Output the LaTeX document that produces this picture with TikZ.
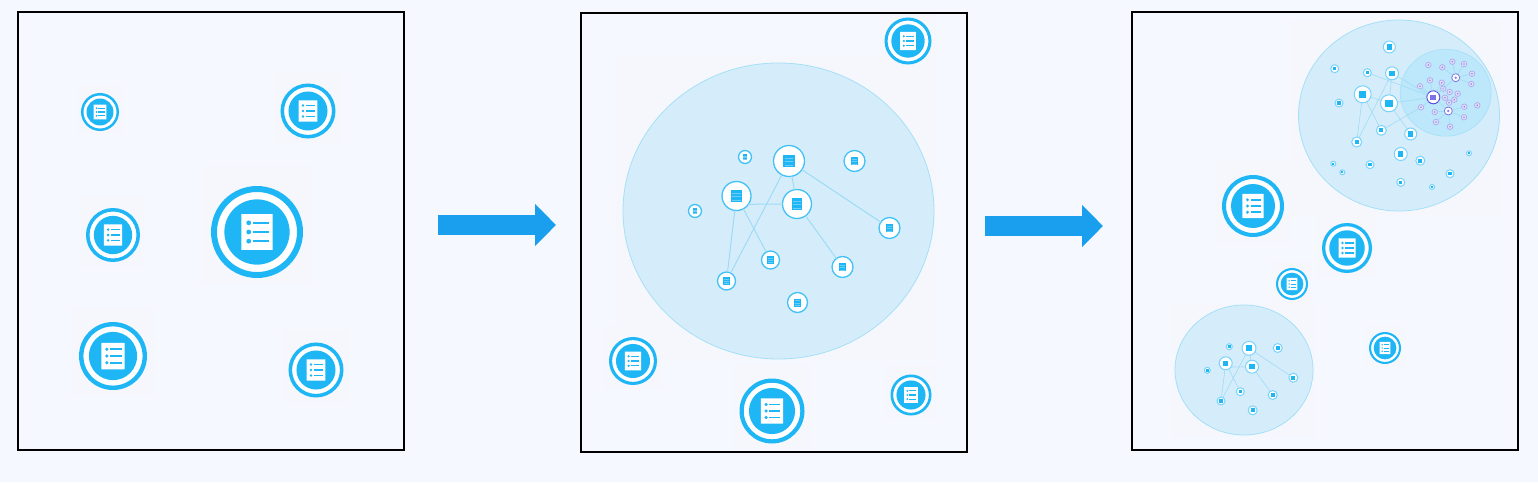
\documentclass[tikz,border=0pt]{standalone}
\usetikzlibrary{arrows.meta}
\definecolor{pagecol}{HTML}{F5F9FF}
\definecolor{patchcol}{HTML}{F6F7FD}
\definecolor{iconblue}{HTML}{1FB6F6}
\definecolor{arrowblue}{HTML}{1A9FEE}
\definecolor{cloudfill}{HTML}{D5EDFB}
\definecolor{innerfill}{HTML}{BDE7FA}
\definecolor{cloudline}{HTML}{A5E0F6}
\definecolor{edgecol}{HTML}{9FDBF5}
\definecolor{hubpurple}{HTML}{5A50E0}
\definecolor{softpurple}{HTML}{AFA8EE}
\definecolor{palepurple}{HTML}{E3E0FA}
\tikzset{
  panel/.style={draw=black, line width=1.5pt},
  cloud/.style={fill=cloudfill, draw=cloudline, line width=0.8pt},
  innercloud/.style={fill=innerfill, draw=cloudline, line width=0.6pt},
  netedge/.style={draw=edgecol, line width=1pt},
  bigarrow/.style={draw=arrowblue, line width=20pt, -{Triangle[length=21pt,width=41pt]}},
  iconring/.style={circle, draw=iconblue, fill=white, inner sep=0pt, outer sep=0pt},
  netring/.style={circle, draw=iconblue!85, fill=white, inner sep=0pt, outer sep=0pt, line width=1.3pt},
  minring/.style={circle, draw=iconblue!60, fill=white, inner sep=0pt, outer sep=0pt, line width=1pt},
  purplering/.style={circle, draw=softpurple, fill=palepurple, inner sep=0pt, outer sep=0pt, line width=0.7pt}
}
\newcommand{\docicon}[4]{%
  \node[iconring, minimum size=0.935*#4pt, line width=0.065*#4pt] (#1) at (#2,#3) {};
  \begin{scope}[shift={(#2,#3)}, x={0.01*#4pt}, y={0.01*#4pt}]
    \fill[iconblue] (0,0) circle (35.5);
    \fill[white, rounded corners=0.3pt] (-17,-19.5) rectangle (17,19.5);
    \foreach \k in {-10,0,10} {
      \fill[iconblue] (-9,\k) circle (2.6);
      \fill[iconblue] (-4,\k-1.4) rectangle (13,\k+1.4);
    }
  \end{scope}
}
\newcommand{\netnode}[4]{%
  \node[netring, minimum size=#4pt] (#1) at (#2,#3) {};
  \fill[iconblue] (#2-0.18*#4,#3-0.2*#4) rectangle (#2+0.18*#4,#3+0.2*#4);
  \foreach \k in {-0.08,0.04,0.16}
    \draw[white, opacity=0.35, line width=0.4pt] (#2-0.14*#4,#3+\k*#4-0.02*#4) -- (#2+0.14*#4,#3+\k*#4-0.02*#4);
}
\newcommand{\minnode}[4]{%
  \node[minring, minimum size=#4pt] (#1) at (#2,#3) {};
  \fill[iconblue] (#2-0.21*#4,#3-0.21*#4) rectangle (#2+0.21*#4,#3+0.21*#4);
}
\newcommand{\purplenode}[3]{%
  \node[purplering, minimum size=5.5pt] (#1) at (#2,#3) {};
  \fill[hubpurple!70] (#2,#3) circle (0.9);
}
\begin{document}
\begin{tikzpicture}[x=1pt, y=-1pt]
  \fill[pagecol] (0,0) rectangle (1538,482);
  \useasboundingbox (0,0) rectangle (1538,482);

  \foreach \x/\y/\d in {100/112/38, 308/111/55, 113/235/54, 257/232/92, 113/356/68, 316/370/55,
      908/41/47, 633/361/48, 772/411/65, 911/395/41,
      1253/206/62, 1347/248/50, 1292/284/32, 1385/348/32}
    \fill[patchcol] (\x-0.6*\d,\y-0.72*\d) rectangle (\x+0.6*\d,\y+0.58*\d);
  \fill[patchcol] (615,55) rectangle (937,360);
  \fill[patchcol] (1172,303) rectangle (1315,437);
  \fill[patchcol] (1290,20) rectangle (1502,215);

  \draw[panel] (18,12) rectangle (404,450);
  \draw[panel] (581,13) rectangle (967,452);
  \draw[panel] (1132,12) rectangle (1518,450);

  \coordinate (arrowAs) at (438,225);
  \coordinate (arrowAe) at (556,225);
  \coordinate (arrowBs) at (985,226);
  \coordinate (arrowBe) at (1103,226);
  \draw[bigarrow] (arrowAs) -- (arrowAe);
  \draw[bigarrow] (arrowBs) -- (arrowBe);

  \foreach \n/\x/\y/\d in {p1a/100/112/38, p1b/308/111/55, p1c/113/235/54, p1d/257/232/92, p1e/113/356/68, p1f/316/370/55,
      p2a/908/41/47, p2b/633/361/48, p2c/772/411/65, p2d/911/395/41,
      p3a/1253/206/62, p3b/1347/248/50, p3c/1292/284/32, p3d/1385/348/32}
    \docicon{\n}{\x}{\y}{\d};

  \draw[cloud] (778.5,211) ellipse [x radius=155.5, y radius=148];
  \foreach \n/\x/\y/\d in {ma/789/161/31, mb/736.5/196/29, mc/797/204/29, md/745/157/13, me/854.5/161/21, mf/695/211/13,
      mg/889.5/228/21, mh/770.5/260/18, mi/842.5/267/21, mj/726.5/281/18, mk/797.5/302.5/20}
    \netnode{\n}{\x}{\y}{\d};
  \foreach \s/\t in {ma/mc, ma/mg, ma/mj, mb/mj, mb/mh, mc/mi}
    \draw[netedge] (\s) -- (\t);
  \draw[netedge] (mb.-35) -- (mc.west);

  \draw[cloud] (1244,370) ellipse [x radius=69, y radius=65];
  \foreach \n/\x/\y/\d in {la/1249/348.3/14, lb/1225.7/363.3/13, lc/1252/366.7/13, ld/1229.3/346.7/6, le/1277.7/348/9, lf/1207.3/370.3/6,
      lg/1293.3/377.7/9, lh/1240.3/391.7/8, li/1272.7/395/9, lj/1221/401/8, lk/1252.7/410.3/9}
    \minnode{\n}{\x}{\y}{\d};
  \foreach \s/\t in {la/lc, la/lg, la/lj, lb/lj, lb/lh, lc/li}
    \draw[netedge, line width=0.6pt] (\s) -- (\t);
  \draw[netedge, line width=0.6pt] (lb.-35) -- (lc.west);

  \draw[cloud] (1399,115.5) ellipse [x radius=100.5, y radius=95.5];
  \draw[innercloud] (1445.7,92.7) ellipse [x radius=45.5, y radius=43.5];
  \foreach \n/\x/\y/\d in {ua/1392/73.3/13, ub/1362.7/94.3/17, uc/1389/103.3/17, ud/1389.3/47/12, ue/1334.7/68.7/8, uf/1367.3/72.7/8,
      ug/1339/103/8, uh/1381.3/130.3/10, ui/1410.7/134/12, uj/1356.7/142/10, uk/1400.7/154/13, ul/1420.3/160.7/9,
      um/1370/164.7/8, un/1333.3/163.7/5, uo/1342.3/172.3/5, up/1400.7/182.3/8, uq/1432/187/5, ur/1450/173.7/8, us/1469/153.3/5}
    \minnode{\n}{\x}{\y}{\d};

  \node[circle, draw=hubpurple, fill=white, line width=1pt, inner sep=0pt, outer sep=0pt, minimum size=13pt] (hub) at (1433.3,97.3) {};
  \fill[hubpurple!80] (1430.3,94.8) rectangle (1436.3,99.8);
  \node[circle, draw=hubpurple!80, fill=white, line width=0.8pt, inner sep=0pt, outer sep=0pt, minimum size=8pt] (hubb) at (1455.7,77.7) {};
  \fill[hubpurple!70] (1455.7,77.7) circle (1.4);
  \node[circle, draw=hubpurple!80, fill=white, line width=0.8pt, inner sep=0pt, outer sep=0pt, minimum size=8pt] (hubc) at (1448.3,111) {};
  \fill[hubpurple!70] (1448.3,111) circle (1.4);

  \foreach \n/\x/\y in {va/1428.3/65, vb/1442.3/67.3, vc/1452.3/61.7, vd/1464/64, ve/1472/73.7, vf/1471.3/84, vg/1430/80.3,
      vh/1441.7/82.7, vi/1420/86.3, vj/1443.3/88.7, vk/1449.7/92, vl/1457.7/93.7, vm/1445/97.7, vn/1454.3/99.7,
      vo/1449/102.7, vp/1464.3/106.7, vq/1477.3/105.3, vr/1421/107.3, vs/1434.7/112, vt/1464/117.3, vu/1436/122, vv/1450/126.7}
    \purplenode{\n}{\x}{\y};

  \foreach \s/\t in {ua/uc, ua/uj, ub/uc, ub/uj, ub/uh, uc/ui, ua/hub, uc/hub, uf/hub, uh/vr, vr/hub, hub/vg, hub/vi, hub/vh, hub/vj, hub/vm, hub/hubb, hub/hubc,
      hubb/vb, hubb/vc, hubb/vd, hubb/ve, hubb/vf, hubc/vs, hubc/vu, hubc/vv, hubc/vt, hubc/vp, hubc/vo}
    \draw[netedge, line width=0.6pt] (\s) -- (\t);
\end{tikzpicture}
\end{document}
